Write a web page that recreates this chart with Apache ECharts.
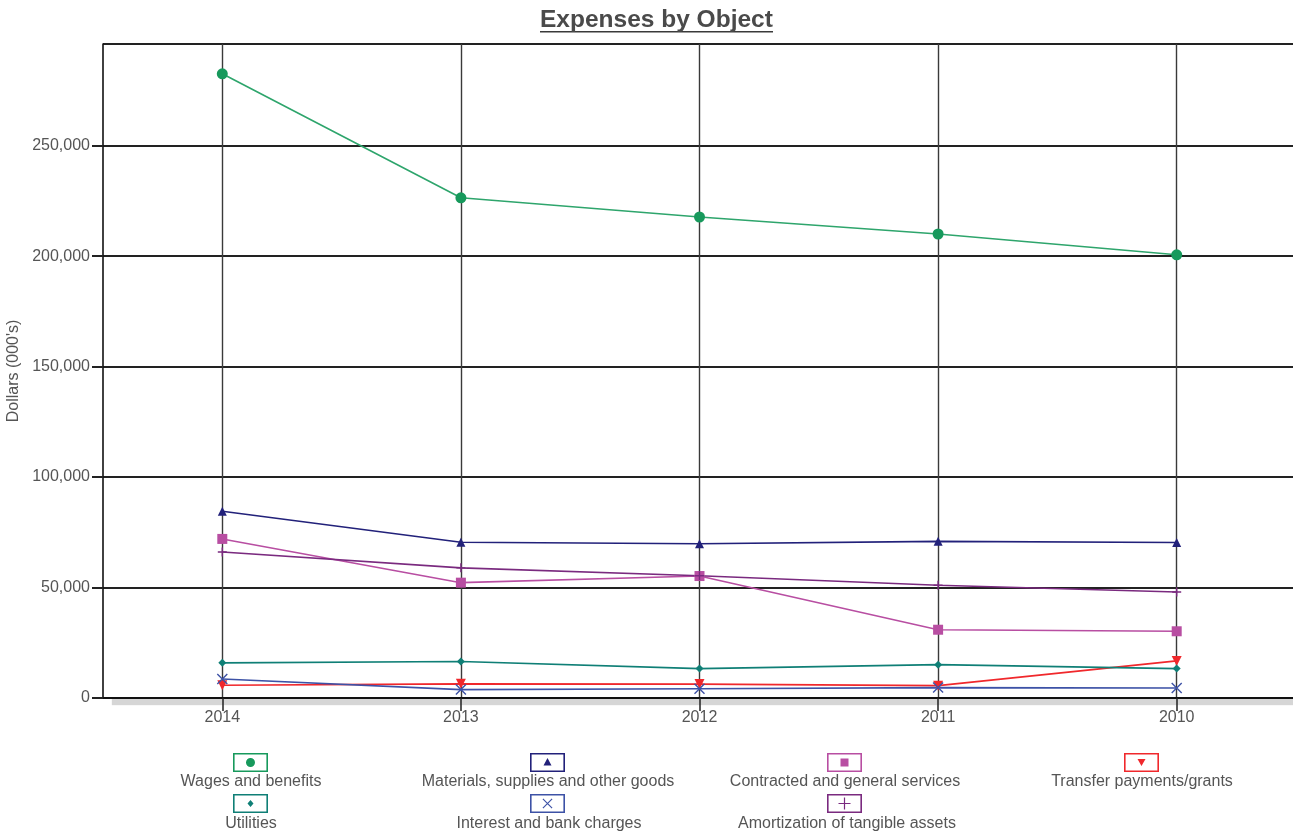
<!DOCTYPE html>
<html>
<head>
<meta charset="utf-8">
<script src="https://cdn.jsdelivr.net/npm/echarts@6/dist/echarts.min.js"></script>
<style>
  html, body { margin: 0; padding: 0; background: #ffffff; }
  #chart { width: 1293px; height: 834px; }
</style>
</head>
<body>
<div id="chart"></div>
<script>
// Fiscal years, newest first
const years = ['2014', '2013', '2012', '2011', '2010'];

// Expenses in thousands of dollars
const wagesAndBenefits     = [282500, 226400, 217700, 210000, 200600];
const materialsSupplies    = [84500, 70500, 69800, 70900, 70400];
const contractedServices   = [72000, 52200, 55200, 30900, 30200];
const transferPayments     = [5800, 6400, 6300, 5600, 16800];
const utilities            = [15900, 16500, 13300, 15100, 13300];
const interestBankCharges  = [8600, 3800, 4200, 4700, 4500];
const amortizationAssets   = [66100, 58900, 55300, 51000, 48000];

// Value axis ticks
const yTickMin = 0;
const yTickMax = 296000;
const yTickStep = 50000;

const FONT = '"Liberation Sans", Arial, sans-serif';
const TEXT_GRAY = '#555555';

// Outlined legend box (35 x 19) with a marker in the middle
const BOX = 'M0 0L35 0L35 19L0 19Z M1.6 1.6L1.6 17.4L33.4 17.4L33.4 1.6Z ';
const boxIcon = inner => 'path://' + BOX + inner;
const ICON = {
  circle:   boxIcon('M13 9.5A4.5 4.5 0 1 0 22 9.5A4.5 4.5 0 1 0 13 9.5Z'),
  triangle: boxIcon('M17.5 5L21.5 12.5L13.5 12.5Z'),
  square:   boxIcon('M13.5 5.5L21.5 5.5L21.5 13.5L13.5 13.5Z'),
  down:     boxIcon('M13.5 6L21.5 6L17.5 13Z'),
  diamond:  boxIcon('M17.5 6L20.5 9.5L17.5 13L14.5 9.5Z'),
  cross:    boxIcon('M12.5 5.3L13.3 4.5L22.5 13.7L21.7 14.5Z M21.7 4.5L22.5 5.3L13.3 14.5L12.5 13.7Z'),
  plus:     boxIcon('M16.9 3.5L18.1 3.5L18.1 8.9L23.5 8.9L23.5 10.1L18.1 10.1L18.1 15.5L16.9 15.5L16.9 10.1L11.5 10.1L11.5 8.9L16.9 8.9Z')
};

const seriesDefs = [
  { name: 'Wages and benefits', data: wagesAndBenefits, color: '#17995c', line: '#2ea56c',
    symbol: 'circle', symbolSize: 11, icon: ICON.circle },
  { name: 'Materials, supplies and other goods', data: materialsSupplies, color: '#22217a',
    symbol: 'triangle', symbolSize: 9, icon: ICON.triangle },
  { name: 'Contracted and general services', data: contractedServices, color: '#b84ea2',
    symbol: 'rect', symbolSize: 10, icon: ICON.square },
  { name: 'Transfer payments/grants', data: transferPayments, color: '#f0282c',
    symbol: 'triangle', symbolRotate: 180, symbolSize: 10, icon: ICON.down },
  { name: 'Utilities', data: utilities, color: '#0f7f76',
    symbol: 'diamond', symbolSize: 8, icon: ICON.diamond },
  { name: 'Interest and bank charges', data: interestBankCharges, color: '#3d52a6',
    symbol: 'path://M0 0L10 10M10 0L0 10', symbolSize: 10, stroke: true, icon: ICON.cross },
  { name: 'Amortization of tangible assets', data: amortizationAssets, color: '#7a2a7f',
    symbol: 'path://M5 0L5 10M0 5L10 5', symbolSize: 9, stroke: true, icon: ICON.plus }
];

const series = seriesDefs.map(d => ({
  name: d.name,
  type: 'line',
  data: d.data,
  symbol: d.symbol,
  symbolSize: d.symbolSize,
  symbolRotate: d.symbolRotate || 0,
  showAllSymbol: true,
  color: d.color,
  lineStyle: { color: d.line || d.color, width: 1.6 },
  itemStyle: d.stroke
    ? { color: d.color, borderColor: d.color, borderWidth: 1.4 }
    : { color: d.color, borderWidth: 0 },
  emphasis: { disabled: true }
}));

const row1 = seriesDefs.slice(0, 4);
const row2 = seriesDefs.slice(4);

// Icon boxes on one line, names centred underneath
function iconLegend(defs, top) {
  return {
    left: 233, top: top, orient: 'horizontal', padding: 0,
    itemWidth: 35, itemHeight: 19, itemGap: 262,
    symbolKeepAspect: true,
    itemStyle: { borderWidth: 0 },
    data: defs.map(d => ({ name: d.name, icon: d.icon })),
    formatter: () => ''
  };
}
function textLegend(defs, top) {
  return {
    left: 100, top: top, orient: 'horizontal', padding: 0,
    itemWidth: 0, itemHeight: 10, itemGap: 0,
    icon: 'rect',
    itemStyle: { opacity: 0 },
    data: defs.map(d => d.name),
    formatter: '{t|{name}}',
    textStyle: {
      rich: {
        t: { width: 292, align: 'center', fontSize: 16, lineHeight: 17,
             fontFamily: FONT, color: TEXT_GRAY }
      }
    }
  };
}

const chart = echarts.init(document.getElementById('chart'), null, { renderer: 'canvas' });
chart.setOption({
  animation: false,
  backgroundColor: '#ffffff',
  title: {
    text: 'Expenses by Object',
    left: 540, top: 8, padding: 0,
    textStyle: { fontFamily: FONT, fontSize: 24.5, fontWeight: 'bold', color: '#4a4a4a' }
  },
  graphic: [
    { type: 'rect', left: 540, top: 31, shape: { width: 233, height: 1.6 },
      style: { fill: '#3a3a3a' }, silent: true }
  ],
  legend: [
    iconLegend(row1, 753),
    textLegend(row1, 774),
    iconLegend(row2, 794),
    textLegend(row2, 816)
  ],
  grid: {
    show: true,
    left: 103, top: 44, right: -3, bottom: 136,
    outerBoundsMode: 'none',
    containLabel: false,
    backgroundColor: '#ffffff',
    borderWidth: 0,
    shadowColor: '#d6d6d6', shadowBlur: 1, shadowOffsetX: 9, shadowOffsetY: 7
  },
  xAxis: {
    type: 'category',
    data: years,
    boundaryGap: true,
    axisLine: { show: true, lineStyle: { color: '#111111', width: 2 } },
    axisTick: { show: true, alignWithLabel: true, length: 13, lineStyle: { color: '#222222', width: 1.5 } },
    axisLabel: { margin: 12, fontFamily: FONT, fontSize: 16, color: TEXT_GRAY },
    splitLine: { show: true, alignWithLabel: true, lineStyle: { color: '#3a3a3a', width: 1.4 } }
  },
  yAxis: {
    type: 'value',
    min: yTickMin, max: yTickMax, interval: yTickStep,
    name: "Dollars (000's)",
    nameLocation: 'middle',
    nameRotate: 90,
    nameGap: 76,
    nameTextStyle: { fontFamily: FONT, fontSize: 16, color: TEXT_GRAY },
    axisLine: { show: true, lineStyle: { color: '#111111', width: 1.6 } },
    axisTick: { show: true, length: 11, lineStyle: { color: '#222222', width: 2 } },
    axisLabel: {
      margin: 13, fontFamily: FONT, fontSize: 16, color: TEXT_GRAY,
      showMaxLabel: false,
      formatter: v => v.toLocaleString('en-US')
    },
    splitLine: { show: true, lineStyle: { color: '#222222', width: 1.8 } }
  },
  series: series
});
</script>
</body>
</html>
